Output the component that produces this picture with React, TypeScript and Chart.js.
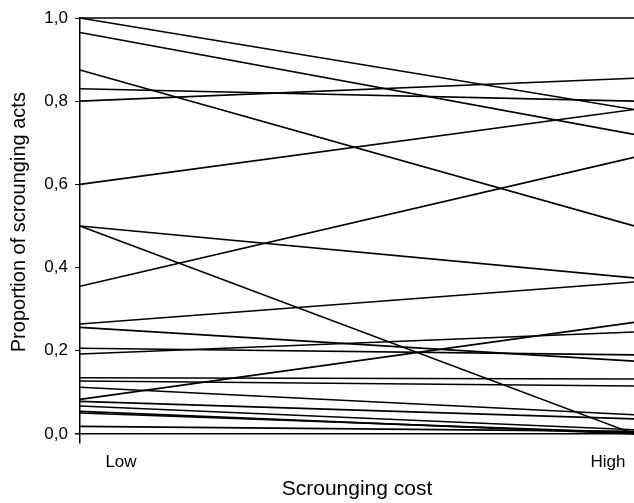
import React, { useEffect, useRef } from 'react';
import { Chart, registerables } from 'chart.js';

Chart.register(...registerables);

// Positions of the two cost conditions on the x scale
const lowX = 0;
const highX = 1;
const xTickPositions = [0.074, 0.953];
const xTickLabels = ['Low', 'High'];
const yTicks = [0, 0.2, 0.4, 0.6, 0.8, 1.0];

// Proportion of scrounging acts per individual under low and high cost
const lowCost = [1.0, 1.0, 0.965, 0.875, 0.83, 0.8, 0.6, 0.5, 0.5, 0.355, 0.264, 0.256, 0.206, 0.192, 0.135, 0.127, 0.112, 0.083, 0.078, 0.067, 0.054, 0.05, 0.018];
const highCost = [1.0, 0.78, 0.72, 0.5, 0.8, 0.855, 0.78, 0.375, 0.0, 0.665, 0.365, 0.175, 0.19, 0.245, 0.132, 0.115, 0.046, 0.268, 0.036, 0.01, 0.0, 0.003, 0.006];

const FONT = "'Liberation Sans', Arial, sans-serif";

export default function App() {
  const ref = useRef<HTMLCanvasElement | null>(null);

  useEffect(() => {
    document.body.style.margin = '0';
    const canvas = ref.current;
    if (!canvas) return;
    const datasets = lowCost.map((lo, i) => ({
      label: 'Individual ' + (i + 1),
      data: [
        { x: lowX, y: lo },
        { x: highX, y: highCost[i] },
      ],
      borderColor: '#000',
      borderWidth: 1.6,
      pointRadius: 0,
      tension: 0,
      fill: false,
      clip: false as any,
    }));
    const chart = new Chart(canvas, {
      type: 'line',
      data: { datasets },
      options: {
        responsive: false,
        animation: false,
        layout: { padding: { top: 18, right: 0, left: 0, bottom: 0 } },
        plugins: { legend: { display: false }, tooltip: { enabled: false } },
        scales: {
          x: {
            type: 'linear',
            min: 0,
            max: 1,
            position: 'bottom',
            grid: { display: false },
            border: { display: false },
            afterBuildTicks: (s: any) => {
              s.ticks = xTickPositions.map((v) => ({ value: v }));
            },
            afterFit: (s: any) => {
              s.height = 60;
            },
            ticks: {
              autoSkip: false,
              maxRotation: 0,
              padding: 1,
              color: '#000',
              font: { family: FONT, size: 17 },
              callback: (_v: any, i: number) => xTickLabels[i],
            },
            title: {
              display: true,
              text: 'Scrounging cost',
              color: '#000',
              font: { family: FONT, size: 21 },
              padding: { top: 0, bottom: 1 },
            },
          },
          y: {
            type: 'linear',
            min: -0.022,
            max: 1,
            afterBuildTicks: (s: any) => {
              s.ticks = yTicks.map((v) => ({ value: v }));
            },
            afterFit: (s: any) => {
              s.width = 80;
            },
            grid: {
              drawOnChartArea: true,
              drawTicks: true,
              tickLength: 5,
              tickColor: '#000',
              color: (c: any) => (c.tick && c.tick.value === 0 ? '#000' : 'rgba(0,0,0,0)'),
              lineWidth: (c: any) => (c.tick && c.tick.value === 0 ? 1.5 : 1),
            },
            border: { display: true, color: '#000', width: 1.5 },
            ticks: {
              padding: 7,
              color: '#000',
              font: { family: FONT, size: 17 },
              callback: (v: any) => Number(v).toFixed(1).replace('.', ','),
            },
            title: {
              display: true,
              text: '   Proportion of scrounging acts',
              color: '#000',
              font: { family: FONT, size: 20 },
              padding: { top: 7, bottom: 0 },
            },
          },
        },
      },
    });
    return () => chart.destroy();
  }, []);

  return <canvas ref={ref} width={634} height={503} style={{ display: 'block' }} />;
}
